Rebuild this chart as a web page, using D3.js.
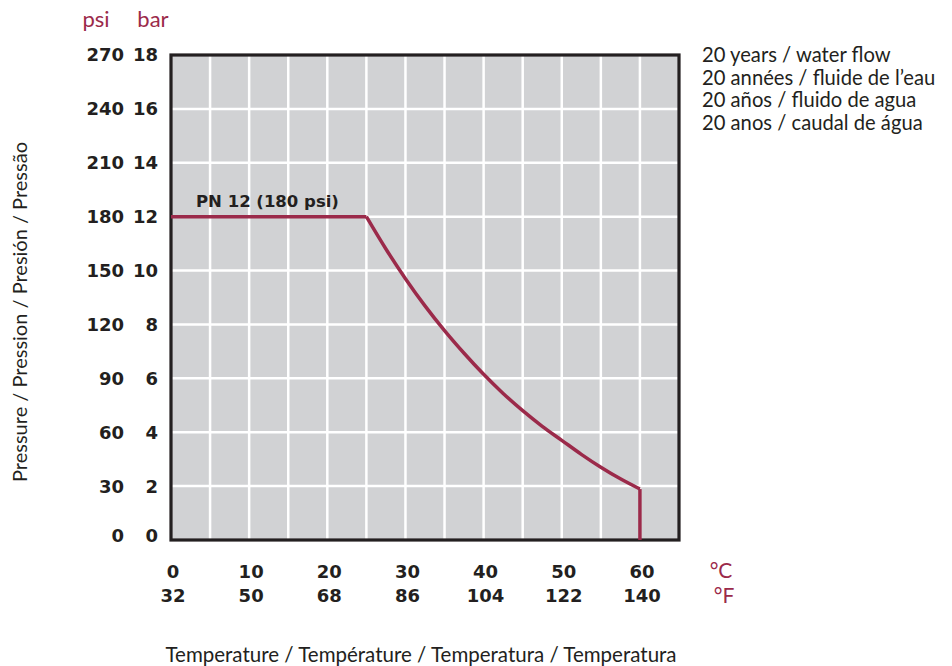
<!DOCTYPE html>
<html><head><meta charset="utf-8">
<script src="https://cdn.jsdelivr.net/npm/d3@7"></script>
<style>body{margin:0;background:#fff}svg{display:block}</style>
</head><body>
<svg id="c" width="952" height="666"></svg>
<script>
// ---- data ----
const tempCTicks = [0, 10, 20, 30, 40, 50, 60];
const tempFTicks = [32, 50, 68, 86, 104, 122, 140];
const gridTemps = [5, 10, 15, 20, 25, 30, 35, 40, 45, 50, 55, 60];
const barTicks = [0, 2, 4, 6, 8, 10, 12, 14, 16, 18];
const psiTicks = [0, 30, 60, 90, 120, 150, 180, 210, 240, 270];
const flatTemp = [0, 25];
const flatBar = [12, 12];
const curveTemp = [25, 27.5, 30, 32.5, 35, 37.5, 40, 42.5, 45, 47.5, 50, 52.5, 55, 57.5, 60];
const curveBar = [12, 10.8, 9.7, 8.69, 7.77, 6.93, 6.15, 5.44, 4.8, 4.22, 3.7, 3.18, 2.7, 2.27, 1.89];
const dropTemp = [60, 60];
const dropBar = [1.89, 0];
const legendLines = ["20 years / water flow", "20 années / fluide de l\u2019eau", "20 años / fluido de agua", "20 anos / caudal de água"];
const seriesLabel = "PN 12 (180 psi)";

const red = "#9b2a4a", dark = "#231f20";
const svg = d3.select("#c");
const x = d3.scaleLinear().domain([0, 65]).range([171, 679]);
const y = d3.scaleLinear().domain([0, 18]).range([540, 55]);
const font = "Lato, 'Noto Sans', sans-serif";
const bold = "'DejaVu Sans', sans-serif";

// background
svg.append("rect").attr("x", x(0)).attr("y", y(18)).attr("width", x(65) - x(0)).attr("height", y(0) - y(18)).attr("fill", "#d1d2d4");
// grid
svg.append("g").selectAll("line").data(gridTemps).join("line")
  .attr("x1", d => x(d)).attr("x2", d => x(d)).attr("y1", y(18)).attr("y2", y(0))
  .attr("stroke", "#fff").attr("stroke-width", 2.5);
svg.append("g").selectAll("line").data(barTicks.filter(d => d > 0 && d < 18)).join("line")
  .attr("x1", x(0)).attr("x2", x(65)).attr("y1", d => y(d)).attr("y2", d => y(d))
  .attr("stroke", "#fff").attr("stroke-width", 2.5);
// frame
svg.append("rect").attr("x", x(0)).attr("y", y(18)).attr("width", x(65) - x(0)).attr("height", y(0) - y(18))
  .attr("fill", "none").attr("stroke", dark).attr("stroke-width", 3.2);

// series
const line = d3.line().x(d => x(d[0])).y(d => y(d[1]));
const lineC = d3.line().x(d => x(d[0])).y(d => y(d[1])).curve(d3.curveMonotoneX);
svg.append("path").datum(flatTemp.map((t, i) => [t, flatBar[i]])).attr("d", line)
  .attr("fill", "none").attr("stroke", red).attr("stroke-width", 3.5);
svg.append("path").datum(curveTemp.map((t, i) => [t, curveBar[i]])).attr("d", lineC)
  .attr("fill", "none").attr("stroke", red).attr("stroke-width", 3.5).attr("stroke-linejoin", "round");
svg.append("path").datum(dropTemp.map((t, i) => [t, dropBar[i]])).attr("d", line)
  .attr("fill", "none").attr("stroke", red).attr("stroke-width", 3.5);

svg.append("text").attr("x", 196).attr("y", y(12) - 10).text(seriesLabel)
  .attr("font-family", bold).attr("font-weight", 700).attr("font-size", 16.5).attr("fill", dark);

// y tick labels
svg.append("g").selectAll("text").data(barTicks).join("text")
  .attr("x", 158).attr("y", d => y(d) - (d === 0 ? 4 : 0)).attr("dy", "0.36em").attr("text-anchor", "end")
  .text(d => d).attr("font-family", bold).attr("font-weight", 700).attr("font-size", 18).attr("fill", dark);
svg.append("g").selectAll("text").data(psiTicks).join("text")
  .attr("x", 124).attr("y", (d, i) => y(barTicks[i]) - (d === 0 ? 4 : 0)).attr("dy", "0.36em").attr("text-anchor", "end")
  .text(d => d).attr("font-family", bold).attr("font-weight", 700).attr("font-size", 18).attr("fill", dark);
svg.append("text").attr("x", 96).attr("y", 27).attr("text-anchor", "middle").text("psi")
  .attr("font-family", font).attr("font-size", 22).attr("fill", red);
svg.append("text").attr("x", 153).attr("y", 27).attr("text-anchor", "middle").text("bar")
  .attr("font-family", font).attr("font-size", 22).attr("fill", red);

// x tick labels
svg.append("g").selectAll("text").data(tempCTicks).join("text")
  .attr("x", d => x(d) + 2).attr("y", 578).attr("text-anchor", "middle")
  .text(d => d).attr("font-family", bold).attr("font-weight", 700).attr("font-size", 18).attr("fill", dark);
svg.append("g").selectAll("text").data(tempFTicks).join("text")
  .attr("x", (d, i) => x(tempCTicks[i]) + 2).attr("y", 602).attr("text-anchor", "middle")
  .text(d => d).attr("font-family", bold).attr("font-weight", 700).attr("font-size", 18).attr("fill", dark);
svg.append("text").attr("x", 721).attr("y", 578).attr("text-anchor", "middle").text("°C")
  .attr("font-family", font).attr("font-size", 21).attr("fill", red);
svg.append("text").attr("x", 724).attr("y", 603).attr("text-anchor", "middle").text("°F")
  .attr("font-family", font).attr("font-size", 21).attr("fill", red);

// legend
svg.append("g").selectAll("text").data(legendLines).join("text")
  .attr("x", 702).attr("y", (d, i) => 62 + i * 22.6).text(d => d)
  .attr("font-family", font).attr("font-weight", 400).attr("font-size", 20.2).attr("fill", dark);

// axis titles
svg.append("text").attr("transform", "translate(27,312) rotate(-90)").attr("text-anchor", "middle")
  .text("Pressure / Pression / Presión / Pressão")
  .attr("font-family", font).attr("font-weight", 400).attr("font-size", 20).attr("fill", dark);
svg.append("text").attr("x", 421).attr("y", 662).attr("text-anchor", "middle")
  .text("Temperature / Température / Temperatura / Temperatura")
  .attr("font-family", font).attr("font-weight", 400).attr("font-size", 20.5).attr("fill", dark);
</script>
</body></html>
